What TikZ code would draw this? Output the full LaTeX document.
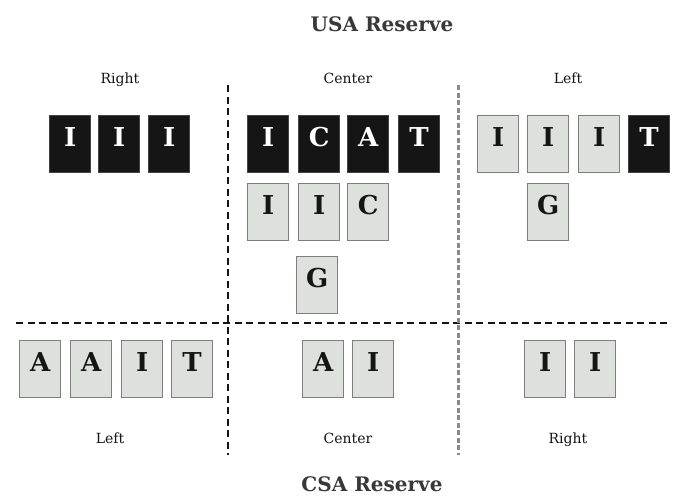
\documentclass[tikz,border=0pt]{standalone}
\usepackage{fontspec}
\newfontfamily\slab{DejaVu Serif}
\definecolor{boxgrey}{HTML}{DDE0DD}
\definecolor{edgegrey}{HTML}{7E7E7E}
\definecolor{ink}{HTML}{151515}
\definecolor{divgrey}{HTML}{8A8A8A}
\begin{document}
\begin{tikzpicture}[x=1pt,y=-1pt,
  tile/.style={anchor=north west, minimum width=41pt, inner xsep=0pt, inner ysep=0pt,
    text height=31pt, text depth=26pt, line width=1.3pt,
    font=\slab\bfseries\fontsize{26}{26}\selectfont},
  darktile/.style={tile, fill=ink, draw=ink!80!white, text=white},
  lighttile/.style={tile, fill=boxgrey, draw=edgegrey, text=ink},
  sidelabel/.style={font=\slab\fontsize{14}{14}\selectfont, text=ink, text height=10pt, text depth=3pt},
  title/.style={font=\slab\bfseries\fontsize{20}{20}\selectfont, text=ink!85!white, text height=15pt, text depth=4pt},
  blackdiv/.style={line width=1.6pt, dash pattern=on 7pt off 4.5pt, draw=ink},
  greydiv/.style={line width=3pt, dash pattern=on 5pt off 2.5pt, draw=divgrey}]
\useasboundingbox (0,0) rectangle (673,498);
\fill[white] (0,0) rectangle (673,498);

% dividers
\draw[blackdiv] (16,323) -- (667,323);
\draw[blackdiv] (228,85) -- (228,455);
\draw[greydiv] (458,85) -- (458,455);

% titles and labels
\node[title] (usa) at (382,26) {USA Reserve};
\node[title] (csa) at (372,486) {CSA Reserve};
\node[sidelabel] (tR) at (120,80) {Right};
\node[sidelabel] (tC) at (348,80) {Center};
\node[sidelabel] (tL) at (568,80) {Left};
\node[sidelabel] (bL) at (110,440) {Left};
\node[sidelabel] (bC) at (348,440) {Center};
\node[sidelabel] (bR) at (568,440) {Right};

% USA: right group
\node[darktile] (ur1) at (49,115) {I};
\node[darktile] (ur2) at (98,115) {I};
\node[darktile] (ur3) at (148,115) {I};
% USA: center group
\node[darktile] (uc1) at (247,115) {I};
\node[darktile] (uc2) at (298,115) {C};
\node[darktile] (uc3) at (347,115) {A};
\node[darktile] (uc4) at (398,115) {T};
\node[lighttile] (uc5) at (247,183) {I};
\node[lighttile] (uc6) at (298,183) {I};
\node[lighttile] (uc7) at (347,183) {C};
\node[lighttile] (uc8) at (296,256) {G};
% USA: left group
\node[lighttile] (ul1) at (477,115) {I};
\node[lighttile] (ul2) at (527,115) {I};
\node[lighttile] (ul3) at (578,115) {I};
\node[darktile]  (ul4) at (628,115) {T};
\node[lighttile] (ul5) at (527,183) {G};

% CSA: left group
\node[lighttile] (cl1) at (19,340) {A};
\node[lighttile] (cl2) at (70,340) {A};
\node[lighttile] (cl3) at (121,340) {I};
\node[lighttile] (cl4) at (171,340) {T};
% CSA: center group
\node[lighttile] (cc1) at (302,340) {A};
\node[lighttile] (cc2) at (352,340) {I};
% CSA: right group
\node[lighttile] (cr1) at (524,340) {I};
\node[lighttile] (cr2) at (574,340) {I};
\end{tikzpicture}
\end{document}
